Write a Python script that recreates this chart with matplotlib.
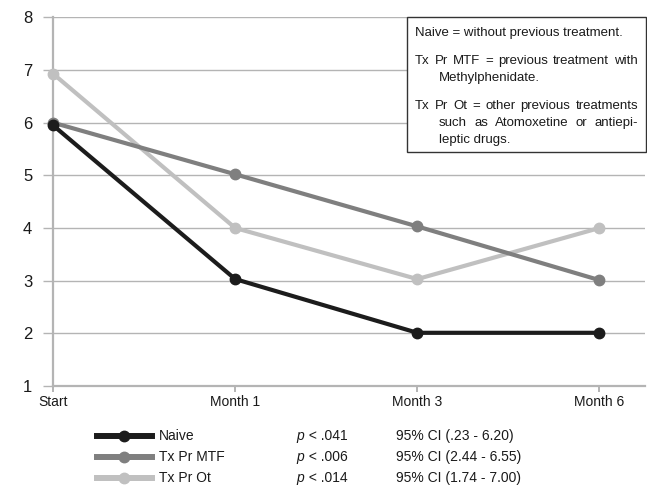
import numpy as np
import matplotlib
matplotlib.use('Agg')
import matplotlib.pyplot as plt
from matplotlib.lines import Line2D

plt.rcParams['font.family'] = ['Liberation Sans', 'DejaVu Sans']

months = ["Start", "Month 1", "Month 3", "Month 6"]
naive  = [5.95, 3.03, 2.01, 2.01]
tx_mtf = [6.00, 5.02, 4.03, 3.01]
tx_ot  = [6.93, 4.00, 3.03, 4.00]

series_names = ["Naive", "Tx Pr MTF", "Tx Pr Ot"]
p_values = ["< .041", "< .006", "< .014"]
ci_texts = ["95% CI (.23 - 6.20)", "95% CI (2.44 - 6.55)", "95% CI (1.74 - 7.00)"]
colors = ["#1c1c1c", "#7f7f7f", "#c0c0c0"]

note_lines = [
    ("Naive = without previous treatment.", False, False),
    ("Tx Pr MTF = previous treatment with", True, False),
    ("Methylphenidate.", False, True),
    ("Tx Pr Ot = other previous treatments", True, False),
    ("such as Atomoxetine or antiepi-", True, True),
    ("leptic drugs.", False, True),
]

W, H = 647, 486
fig = plt.figure(figsize=(W / 100, H / 100), dpi=100)
ax = fig.add_axes([53 / W, 1 - 386 / H, (645 - 53) / W, (386 - 17.3) / H])

x = np.arange(len(months))
for vals, c in zip([naive, tx_mtf, tx_ot][::-1], colors[::-1]):
    ax.plot(x, vals, color=c, lw=3, marker='o', ms=7.5, clip_on=False, zorder=3)

gridc = "#b4b4b4"
ax.set_xlim(0, 3.25)
ax.set_ylim(1, 8)
ax.set_xticks(x, months, fontsize=10)
ax.set_yticks(range(1, 9), [str(i) for i in range(1, 9)], fontsize=12)
ax.yaxis.grid(True, color=gridc, lw=1)
ax.set_axisbelow(True)
for s in ['top', 'right']:
    ax.spines[s].set_visible(False)
for s in ['left', 'bottom']:
    ax.spines[s].set_color(gridc)
    ax.spines[s].set_linewidth(1.6)
ax.tick_params(axis='y', length=7, width=1, color=gridc, pad=8, labelcolor='#1a1a1a')
ax.tick_params(axis='x', length=4.5, width=1.4, color=gridc, pad=2, labelcolor='#1a1a1a')

# explanatory note box
box_l, box_t, box_r, box_b = 407, 17, 646, 152
fig.patches.append(plt.Rectangle((box_l / W, 1 - box_b / H), (box_r - box_l) / W,
                                 (box_b - box_t) / H, transform=fig.transFigure,
                                 facecolor='white', edgecolor='#333333', lw=1, zorder=5))
fig.canvas.draw()
renderer = fig.canvas.get_renderer()
text_l, text_r, indent = 415, 638, 439
ys = [36, 64, 81, 109, 126, 143]
fs_note = 9.5
for (line, justify, ind), yy in zip(note_lines, ys):
    x0 = indent if ind else text_l
    if not justify:
        fig.text(x0 / W, 1 - yy / H, line, fontsize=fs_note, va='baseline',
                 color='#1a1a1a', zorder=6)
        continue
    words = line.split()
    objs = [fig.text(0, 1 - yy / H, w, fontsize=fs_note, va='baseline',
                     color='#1a1a1a', zorder=6) for w in words]
    widths = [o.get_window_extent(renderer).width for o in objs]
    gap = (text_r - x0 - sum(widths)) / (len(words) - 1)
    pos = x0
    for o, w in zip(objs, widths):
        o.set_x(pos / W)
        pos += w + gap

# legend rows
rows_y = [436, 457, 478]
for name, pv, ci, c, yy in zip(series_names, p_values, ci_texts, colors, rows_y):
    fy = 1 - yy / H
    fig.add_artist(Line2D([97 / W, 152 / W], [fy, fy], color=c, lw=4.3))
    fig.add_artist(Line2D([124 / W], [fy], color=c, marker='o', ms=7.5))
    fig.text(159 / W, fy, name, fontsize=10, va='center', color='#1a1a1a')
    fig.text(296 / W, fy, "p", fontsize=10, va='center', style='italic', color='#1a1a1a')
    fig.text(305 / W, fy, " " + pv, fontsize=10, va='center', color='#1a1a1a')
    fig.text(396 / W, fy, ci, fontsize=10, va='center', color='#1a1a1a')

fig.savefig("out.png", dpi=100)
